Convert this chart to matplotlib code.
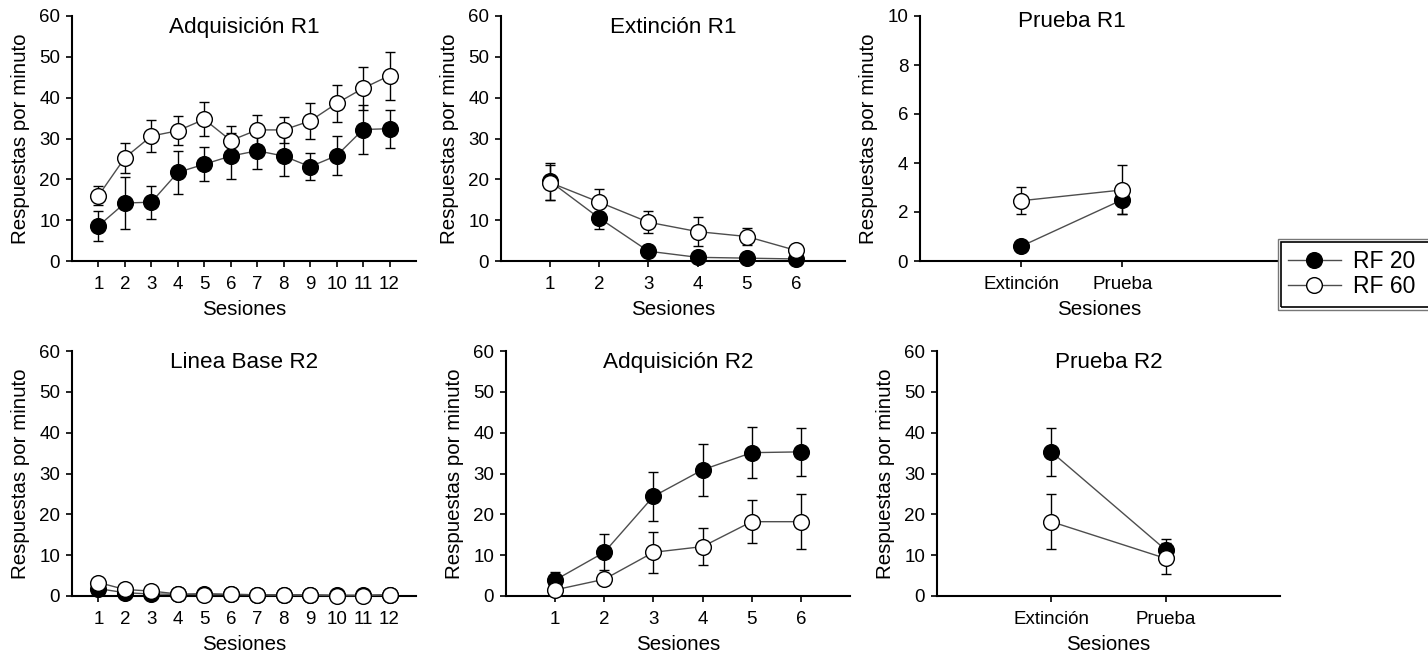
import matplotlib
matplotlib.use('Agg')
import matplotlib.pyplot as plt
import matplotlib.transforms as mtransforms
from matplotlib.lines import Line2D
from matplotlib.patches import Rectangle

plt.rcParams['font.family'] = ['Liberation Sans', 'DejaVu Sans']

# ---------------- data ----------------
sesiones_12 = [1, 2, 3, 4, 5, 6, 7, 8, 9, 10, 11, 12]
sesiones_6 = [1, 2, 3, 4, 5, 6]
prueba_cats = ['Extinción', 'Prueba']
grupos = ['RF 20', 'RF 60']

adq_r1_rf20 = [8.6, 14.2, 14.4, 21.7, 23.7, 25.7, 27.0, 25.7, 23.1, 25.8, 32.2, 32.4]
adq_r1_rf20_sem = [3.6, 6.4, 4.0, 5.2, 4.2, 5.7, 4.5, 4.9, 3.3, 4.8, 6.0, 4.7]
adq_r1_rf60 = [16.0, 25.3, 30.6, 31.9, 34.7, 29.5, 32.1, 32.1, 34.3, 38.6, 42.3, 45.4]
adq_r1_rf60_sem = [2.3, 3.7, 3.9, 3.5, 4.2, 3.5, 3.6, 3.2, 4.3, 4.5, 5.3, 5.9]

ext_r1_rf20 = [19.5, 10.5, 2.4, 0.9, 0.7, 0.5]
ext_r1_rf20_sem = [4.5, 2.7, 0.8, 0.3, 0.3, 0.2]
ext_r1_rf60 = [19.2, 14.4, 9.5, 7.2, 6.0, 2.6]
ext_r1_rf60_sem = [4.2, 3.2, 2.7, 3.5, 2.1, 0.6]

pru_r1_rf20 = [0.6, 2.5]
pru_r1_rf20_sem = [0.1, 0.6]
pru_r1_rf60 = [2.46, 2.9]
pru_r1_rf60_sem = [0.55, 1.0]

lb_r2_rf20 = [1.8, 0.8, 0.5, 0.4, 0.6, 0.4, 0.3, 0.3, 0.3, 0.2, 0.2, 0.3]
lb_r2_rf20_sem = [1.2, 0.6, 0.5, 0.2, 0.2, 0.2, 0.1, 0.1, 0.1, 0.1, 0.1, 0.1]
lb_r2_rf60 = [3.3, 1.6, 1.2, 0.5, 0.3, 0.4, 0.3, 0.2, 0.2, 0.1, 0.1, 0.3]
lb_r2_rf60_sem = [0.8, 0.5, 0.4, 0.2, 0.1, 0.1, 0.1, 0.1, 0.1, 0.1, 0.1, 0.1]

adq_r2_rf20 = [3.9, 10.7, 24.4, 30.9, 35.1, 35.3]
adq_r2_rf20_sem = [1.9, 4.4, 6.0, 6.4, 6.2, 5.8]
adq_r2_rf60 = [1.5, 4.1, 10.7, 12.1, 18.2, 18.2]
adq_r2_rf60_sem = [0.8, 1.0, 5.0, 4.6, 5.2, 6.7]

pru_r2_rf20 = [35.3, 11.3]
pru_r2_rf20_sem = [5.8, 2.6]
pru_r2_rf60 = [18.2, 9.2]
pru_r2_rf60_sem = [6.7, 3.8]

# ---------------- figure ----------------
W, H = 1428, 664
fig = plt.figure(figsize=(W / 100, H / 100), dpi=100)


def add_ax(left, top, right, bottom):
    return fig.add_axes([left / W, 1 - bottom / H, (right - left) / W, (bottom - top) / H])


def draw_series(ax, x, y, sem, filled):
    fc = 'black' if filled else 'white'
    z = 3 if filled else 5
    ax.errorbar(x, y, yerr=sem, fmt='none', ecolor='black', elinewidth=1.0,
                capsize=3.5, capthick=1.0, zorder=z, clip_on=False)
    ax.plot(x, y, '-', color='#4d4d4d', lw=1.0, zorder=z, clip_on=False)
    ax.plot(x, y, 'o', ms=11.3, mfc=fc, mec='black', mew=1.0, zorder=z + 0.5,
            clip_on=False)


def style(ax, xlim, ylim, yticks, xticks, xticklabels, title, title_y, title_x=None):
    ax.set_xlim(*xlim)
    ax.set_ylim(*ylim)
    ax.set_yticks(yticks)
    ax.set_xticks(xticks)
    ax.set_xticklabels(xticklabels)
    for s in ['top', 'right']:
        ax.spines[s].set_visible(False)
    for s in ['left', 'bottom']:
        ax.spines[s].set_linewidth(1.5)
    ax.tick_params(direction='out', length=4.5, width=1.2, labelsize=13.5)
    ax.tick_params(axis='x', pad=6.5)
    ax.tick_params(axis='y', pad=4)
    ax.set_xlabel('Sesiones', fontsize=14.8, labelpad=5)
    ax.set_ylabel('Respuestas por minuto', fontsize=14.8, labelpad=6.5)
    if title_x is None:
        ax.text(0.5, title_y, title, transform=ax.transAxes, ha='center',
                va='baseline', fontsize=16.2)
    else:
        tr = mtransforms.blended_transform_factory(ax.transData, ax.transAxes)
        ax.text(title_x, title_y, title, transform=tr, ha='center',
                va='baseline', fontsize=16.2)


ty = 1 - 17 / 245

# Panel 1
ax1 = add_ax(72, 16, 416, 261)
draw_series(ax1, sesiones_12, adq_r1_rf20, adq_r1_rf20_sem, True)
draw_series(ax1, sesiones_12, adq_r1_rf60, adq_r1_rf60_sem, False)
style(ax1, (0, 13), (0, 60), range(0, 61, 10), sesiones_12,
      [str(s) for s in sesiones_12], 'Adquisición R1', ty)

# Panel 2
ax2 = add_ax(501, 16, 845, 261)
draw_series(ax2, sesiones_6, ext_r1_rf20, ext_r1_rf20_sem, True)
draw_series(ax2, sesiones_6, ext_r1_rf60, ext_r1_rf60_sem, False)
style(ax2, (0, 7), (0, 60), range(0, 61, 10), sesiones_6,
      [str(s) for s in sesiones_6], 'Extinción R1', ty)

# Panel 3
xp = [1, 2]
ax3 = add_ax(920, 16, 1278, 261)
draw_series(ax3, xp, pru_r1_rf20, pru_r1_rf20_sem, True)
draw_series(ax3, xp, pru_r1_rf60, pru_r1_rf60_sem, False)
style(ax3, (0, 3.54), (0, 10), range(0, 11, 2), xp, prueba_cats,
      'Prueba R1', 1 - 11 / 245, title_x=1.5)

# Panel 4
ax4 = add_ax(72, 351, 416, 596)
draw_series(ax4, sesiones_12, lb_r2_rf20, lb_r2_rf20_sem, True)
draw_series(ax4, sesiones_12, lb_r2_rf60, lb_r2_rf60_sem, False)
style(ax4, (0, 13), (0, 60), range(0, 61, 10), sesiones_12,
      [str(s) for s in sesiones_12], 'Linea Base R2', ty)

# Panel 5
ax5 = add_ax(506, 351, 850, 596)
draw_series(ax5, sesiones_6, adq_r2_rf20, adq_r2_rf20_sem, True)
draw_series(ax5, sesiones_6, adq_r2_rf60, adq_r2_rf60_sem, False)
style(ax5, (0, 7), (0, 60), range(0, 61, 10), sesiones_6,
      [str(s) for s in sesiones_6], 'Adquisición R2', ty)

# Panel 6
ax6 = add_ax(937, 351, 1280, 596)
draw_series(ax6, xp, pru_r2_rf20, pru_r2_rf20_sem, True)
draw_series(ax6, xp, pru_r2_rf60, pru_r2_rf60_sem, False)
style(ax6, (0, 3), (0, 60), range(0, 61, 10), xp, prueba_cats,
      'Prueba R2', ty)

# Legend
handles = [
    Line2D([], [], color='#4d4d4d', lw=1.0, marker='o', ms=11.3, mfc='black', mec='black'),
    Line2D([], [], color='#4d4d4d', lw=1.0, marker='o', ms=11.3, mfc='white', mec='black'),
]
fig.legend(handles, grupos, loc='upper left',
           bbox_to_anchor=(1281 / W, 1 - 243 / H), frameon=False, fontsize=16.5,
           handlelength=2.3, handletextpad=0.55, labelspacing=0.1, borderpad=0.3,
           borderaxespad=0)
fig.patches.append(Rectangle((1278 / W, 1 - 310 / H), 160 / W, 71 / H,
                             transform=fig.transFigure, fill=False,
                             edgecolor='#777777', lw=1.0))
fig.patches.append(Rectangle((1281 / W, 1 - 307 / H), 160 / W, 65 / H,
                             transform=fig.transFigure, fill=False,
                             edgecolor='black', lw=1.2))

fig.savefig('out.png', dpi=100, facecolor='white')
